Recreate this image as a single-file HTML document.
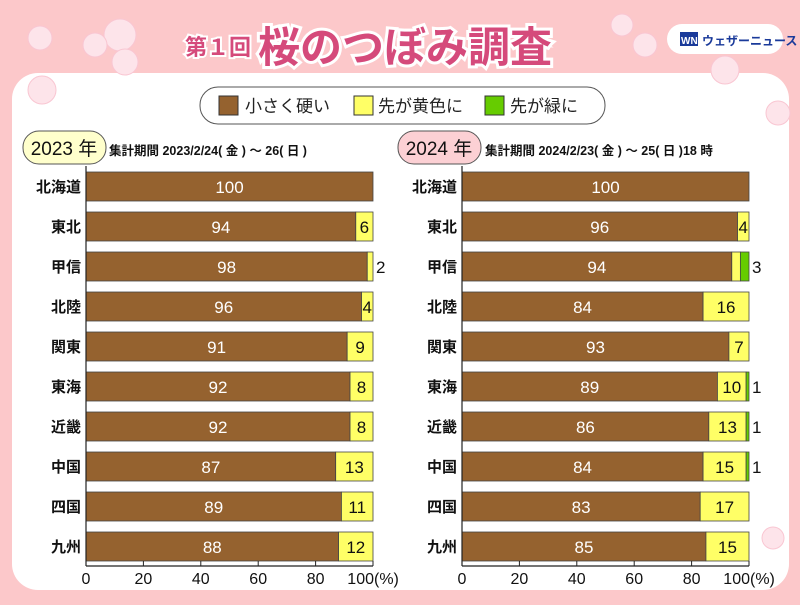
<!DOCTYPE html>
<html><head><meta charset="utf-8"><style>
body{margin:0;width:800px;height:600px;overflow:hidden;background:#fcc8ca;font-family:"Liberation Sans","Noto Sans CJK JP",sans-serif}
</style></head><body>
<svg width="800" height="600" xmlns="http://www.w3.org/2000/svg" font-family="Liberation Sans, Noto Sans CJK JP, sans-serif">
<rect width="800" height="600" fill="#fcc8ca"/>
<rect x="12" y="73" width="777" height="517" rx="26" fill="#fff"/>
<g fill="#fde4ea" stroke="#f9c6d2">
<circle cx="40" cy="38" r="12"/><circle cx="120" cy="35" r="16"/><circle cx="95" cy="45" r="12"/><circle cx="125" cy="62" r="13"/><circle cx="42" cy="90" r="14"/>
<circle cx="622" cy="25" r="11"/><circle cx="645" cy="45" r="12"/><circle cx="725" cy="70" r="14"/><circle cx="778" cy="113" r="12"/><circle cx="773" cy="538" r="11"/>
</g>
<text x="185" y="55" font-size="22" font-weight="bold" fill="#d54a7b" stroke="#fff" stroke-width="4" paint-order="stroke">第１回</text>
<text x="258" y="62" font-size="42" font-weight="bold" fill="#d54a7b" stroke="#fff" stroke-width="6" paint-order="stroke">桜のつぼみ調査</text>
<rect x="667" y="24" width="116" height="30" rx="15" fill="#fff"/>
<rect x="680" y="32" width="18" height="14" fill="#1a3a9a"/>
<text x="681" y="44" font-size="10" font-weight="bold" fill="#fff">WN</text>
<text x="702" y="45" font-size="12" font-weight="bold" fill="#1a3a9a">ウェザーニュース</text>
<rect x="200" y="87" width="405" height="37" rx="18" fill="#fff" stroke="#555"/>
<rect x="219" y="96" width="19" height="19" fill="#95622f" stroke="#333"/>
<text x="245" y="112" font-size="17" fill="#222">小さく硬い</text>
<rect x="354" y="96" width="19" height="19" fill="#ffff66" stroke="#333"/>
<text x="378" y="112" font-size="17" fill="#222">先が黄色に</text>
<rect x="485" y="96" width="19" height="19" fill="#66cc00" stroke="#333"/>
<text x="510" y="112" font-size="17" fill="#222">先が緑に</text>
<rect x="23" y="131" width="83" height="33" rx="16" fill="#ffffcc" stroke="#555"/>
<text x="64" y="155" font-size="19" text-anchor="middle" fill="#111">2023 年</text>
<text x="109" y="155" font-size="12.5" font-weight="bold" fill="#111">集計期間 2023/2/24( 金 ) ～ 26( 日 )</text>
<rect x="398" y="131" width="83" height="33" rx="16" fill="#fcd0d4" stroke="#555"/>
<text x="439" y="155" font-size="19" text-anchor="middle" fill="#111">2024 年</text>
<text x="485" y="155" font-size="12.5" font-weight="bold" fill="#111">集計期間 2024/2/23( 金 ) ～ 25( 日 )18 時</text>
<g id="charts" font-size="17"></g>
</svg>
<script>
const regions=["北海道","東北","甲信","北陸","関東","東海","近畿","中国","四国","九州"];
const d23=[[100,0,0],[94,6,0],[98,2,0],[96,4,0],[91,9,0],[92,8,0],[92,8,0],[87,13,0],[89,11,0],[88,12,0]];
const d24=[[100,0,0],[96,4,0],[94,3,3],[84,16,0],[93,7,0],[89,10,1],[86,13,1],[84,15,1],[83,17,0],[85,15,0]];
const g=document.getElementById('charts');let s='';
function chart(x0,data){
 const k=2.87;
 for(let i=0;i<10;i++){
  const y=172+40*i,h=29;const [a,b,c]=data[i];
  s+=`<text x="${x0-5}" y="${y+20}" text-anchor="end" font-size="15" font-weight="bold" fill="#111">${regions[i]}</text>`;
  let x=x0;
  s+=`<rect x="${x}" y="${y}" width="${a*k}" height="${h}" fill="#95622f" stroke="#444" stroke-width="0.8"/>`;
  s+=`<text x="${x+a*k/2}" y="${y+21}" text-anchor="middle" fill="#fff">${a}</text>`;
  x+=a*k;
  if(b){s+=`<rect x="${x}" y="${y}" width="${b*k}" height="${h}" fill="#ffff66" stroke="#444" stroke-width="0.8"/>`;
   if(b>=4)s+=`<text x="${x+b*k/2}" y="${y+21}" text-anchor="middle" fill="#111">${b}</text>`;
   else if(!c)s+=`<text x="${x+b*k+3}" y="${y+21}" fill="#111">${b}</text>`;
   x+=b*k;}
  if(c){s+=`<rect x="${x}" y="${y}" width="${c*k}" height="${h}" fill="#66cc00" stroke="#444" stroke-width="0.8"/>`;
   s+=`<text x="${x+c*k+3}" y="${y+21}" fill="#111">${c}</text>`;}
 }
 s+=`<line x1="${x0}" y1="166" x2="${x0}" y2="566" stroke="#222" stroke-width="1.2"/>`;
 s+=`<line x1="${x0}" y1="566" x2="${x0+287}" y2="566" stroke="#222" stroke-width="1.2"/>`;
 for(let t=0;t<=100;t+=20){const x=x0+t*k;
  s+=`<line x1="${x}" y1="566" x2="${x}" y2="561" stroke="#222"/>`;
  if(t<100)s+=`<text x="${x}" y="584" text-anchor="middle" font-size="16" fill="#111">${t}</text>`;
  else s+=`<text x="${x+1}" y="584" text-anchor="end" font-size="16" fill="#111">100</text><text x="${x+1}" y="584" font-size="16" fill="#111">(%)</text>`;}
}
chart(86,d23);chart(462,d24);g.innerHTML=s;
</script>
</body></html>
